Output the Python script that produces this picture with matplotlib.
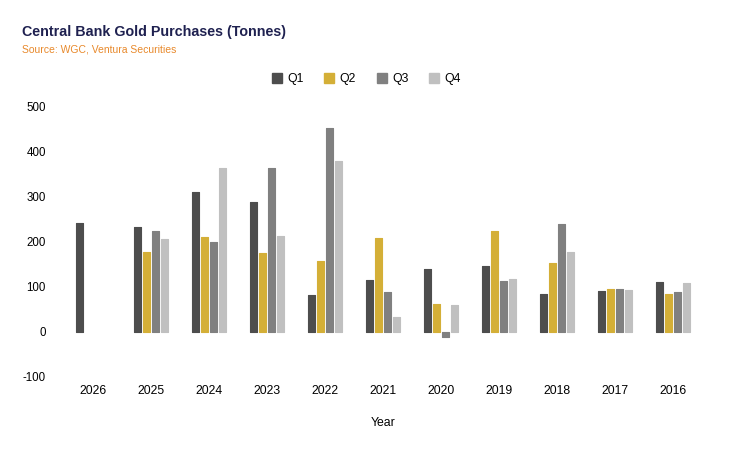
import numpy as np
import matplotlib.pyplot as plt
from matplotlib.lines import Line2D

plt.rcParams["font.family"] = ["Liberation Sans", "DejaVu Sans"]
plt.rcParams["axes.unicode_minus"] = False

years = ["2026", "2025", "2024", "2023", "2022", "2021", "2020", "2019", "2018", "2017", "2016"]
q1 = [240, 233, 310, 288, 81, 114, 138, 145, 83, 90, 110]
q2 = [np.nan, 176, 209, 174, 156, 207, 61, 224, 152, 94, 83]
q3 = [np.nan, 224, 198, 363, 452, 88, -11, 112, 238, 94, 88]
q4 = [np.nan, 205, 363, 213, 379, 32, 59, 116, 176, 92, 107]

quarters = ["Q1", "Q2", "Q3", "Q4"]
colors = ["#4d4d4d", "#d4af37", "#808080", "#c0c0c0"]

fig = plt.figure(figsize=(7.32, 4.53), dpi=100)
ax = fig.add_axes([0.0874, 0.168, 0.8716, 0.598])

x = np.arange(len(years))
width = 0.12
step = 0.155
for i, (vals, col) in enumerate(zip([q1, q2, q3, q4], colors)):
    ax.bar(x + (i - 1.5) * step, vals, width, color=col, edgecolor=col,
           linewidth=0.8, joinstyle="round")

ax.set_xlim(-0.5, len(years) - 0.5)
ax.set_ylim(-100, 500)
ax.set_yticks([-100, 0, 100, 200, 300, 400, 500])
ax.set_xticks(x)
ax.set_xticklabels(years)
ax.tick_params(axis="both", length=0, colors="black")
ax.tick_params(axis="x", pad=6, labelsize=8.8)
ax.tick_params(axis="y", pad=13, labelsize=8.3)
for s in ax.spines.values():
    s.set_visible(False)
ax.set_xlabel("Year", fontsize=8.8, labelpad=14)

handles = [Line2D([], [], marker="s", linestyle="none", markersize=7.5,
                  markerfacecolor=c, markeredgecolor=c) for c in colors]
fig.legend(handles, quarters, loc="center", bbox_to_anchor=(0.5, 0.826),
           ncol=4, frameon=False, fontsize=8.8, handletextpad=0.35,
           columnspacing=1.6, handlelength=1.0)

fig.text(0.030, 0.930, "Central Bank Gold Purchases (Tonnes)", fontsize=10.3,
         fontweight="bold", color="#1f2150", va="center")
fig.text(0.030, 0.890, "Source: WGC, Ventura Securities", fontsize=7.5,
         color="#e8892b", va="center")

fig.savefig("out.png", dpi=100)
